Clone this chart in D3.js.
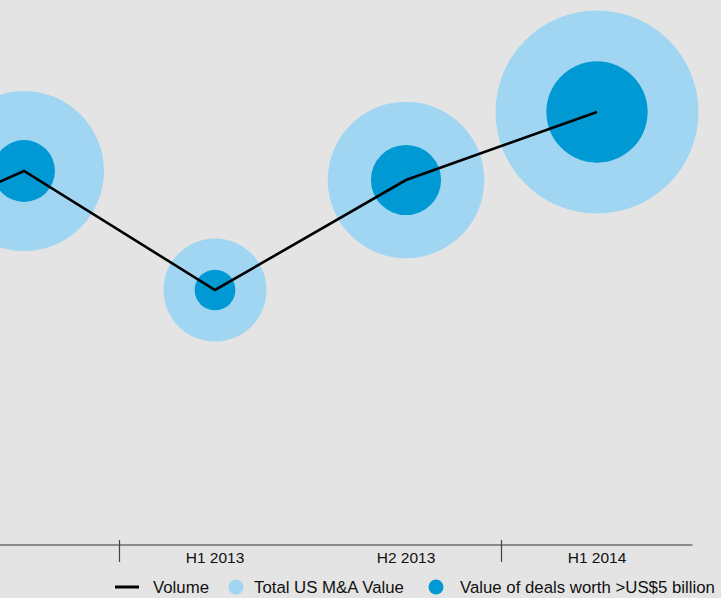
<!DOCTYPE html>
<html>
<head>
<meta charset="utf-8">
<script src="https://cdn.jsdelivr.net/npm/d3@7"></script>
<style>
  html, body { margin: 0; padding: 0; background: #e4e4e4; overflow: hidden; }
  svg { display: block; }
  text { font-family: "Liberation Sans", Arial, sans-serif; fill: #111; }
</style>
</head>
<body>
<svg id="chart" width="721" height="598"></svg>
<script>
// ---- data ----
const categories   = ["H1 2012", "H2 2012", "H1 2013", "H2 2013", "H1 2014"];
const tickLabels   = ["", "", "H1 2013", "H2 2013", "H1 2014"];
const volume       = [2900, 3740, 2550, 3650, 4330];      // deal volume
const totalValue   = [450, 494, 205, 473, 795];           // Total US M&A value (US$ bn)
const bigDealValue = [60, 74, 32, 95, 198];               // Value of deals worth >US$5 billion (US$ bn)
const legendLabels = ["Volume", "Total US M&A Value", "Value of deals worth >US$5 billion"];

const colors = { light: "#a0d6f1", dark: "#0099d4", line: "#000000", bg: "#e4e4e4" };

const svg = d3.select("#chart");

const x = d3.scalePoint().domain(categories).range([-167, 597]);
const step = x.step();
const y = d3.scaleLinear().domain([0, 5000]).range([545, 45]);
const r = d3.scaleSqrt().domain([0, 800]).range([0, 101.8]);

const data = categories.map((c, i) => ({
  cat: c, vol: volume[i], total: totalValue[i], big: bigDealValue[i], label: tickLabels[i]
}));

// bubbles
const g = svg.append("g");
g.selectAll("circle.outer").data(data).join("circle")
  .attr("class", "outer")
  .attr("cx", d => x(d.cat)).attr("cy", d => y(d.vol))
  .attr("r", d => r(d.total)).attr("fill", colors.light);
g.selectAll("circle.inner").data(data).join("circle")
  .attr("class", "inner")
  .attr("cx", d => x(d.cat)).attr("cy", d => y(d.vol))
  .attr("r", d => r(d.big)).attr("fill", colors.dark);

// volume line
const line = d3.line().x(d => x(d.cat)).y(d => y(d.vol));
g.append("path").datum(data).attr("d", line)
  .attr("fill", "none").attr("stroke", colors.line)
  .attr("stroke-width", 2.6).attr("stroke-linejoin", "miter");

// axis
const axisY = 545;
const ax = svg.append("g");
ax.append("line")
  .attr("x1", x(categories[1]) - step / 2).attr("x2", x(categories[categories.length - 1]) + step / 2)
  .attr("y1", axisY).attr("y2", axisY)
  .attr("stroke", "#333").attr("stroke-width", 1.2);
// year separators (between H2 and H1)
const seps = [];
for (let i = 1; i < categories.length; i++) {
  if (categories[i].startsWith("H1")) seps.push((x(categories[i - 1]) + x(categories[i])) / 2);
}
ax.selectAll("line.sep").data(seps).join("line")
  .attr("class", "sep")
  .attr("x1", d => d).attr("x2", d => d)
  .attr("y1", axisY - 5).attr("y2", axisY + 17)
  .attr("stroke", "#444").attr("stroke-width", 1.2);
ax.selectAll("text.tick").data(data.filter(d => d.label)).join("text")
  .attr("class", "tick")
  .attr("x", d => x(d.cat)).attr("y", 563)
  .attr("text-anchor", "middle")
  .style("font-size", "15.5px")
  .text(d => d.label);

// legend
const lg = svg.append("g");
const ly = 587;
lg.append("line").attr("x1", 115).attr("x2", 139).attr("y1", ly).attr("y2", ly)
  .attr("stroke", colors.line).attr("stroke-width", 3);
lg.append("text").attr("x", 153).attr("y", 593).style("font-size", "16.8px").text(legendLabels[0]);
lg.append("circle").attr("cx", 236).attr("cy", ly).attr("r", 7.5).attr("fill", colors.light);
lg.append("text").attr("x", 254).attr("y", 593).style("font-size", "16.8px").text(legendLabels[1]);
lg.append("circle").attr("cx", 436).attr("cy", ly).attr("r", 7.5).attr("fill", colors.dark);
lg.append("text").attr("x", 460).attr("y", 593).style("font-size", "16.8px").text(legendLabels[2]);
</script>
</body>
</html>
